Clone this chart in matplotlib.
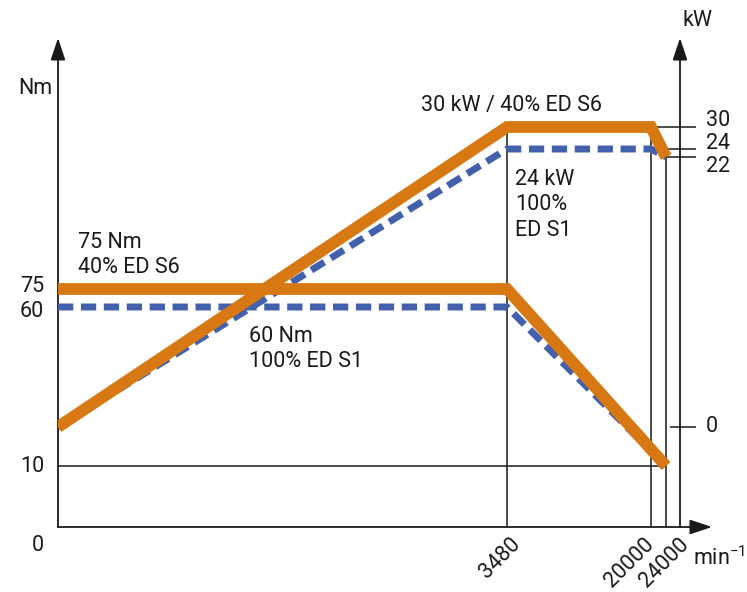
import numpy as np
import matplotlib
matplotlib.use('Agg')
import matplotlib.pyplot as plt
from matplotlib.transforms import blended_transform_factory

# --- data ---
speed_torque = [0, 3480, 24000]
torque_s6 = [75, 75, 10]
torque_s1 = [60, 60, 10]

speed_power = [0, 3480, 20000, 24000]
power_s6 = [0, 30, 30, 22]
power_s1 = [0, 24, 24, 22]

torque_ticks = [0, 10, 60, 75]
power_ticks = [0, 22, 24, 30]
speed_ticks = [3480, 20000, 24000]
speed_labels = ['3480', '20000', '24000']

# --- schematic (non-linear) axis layout, in pixels from the axes origin ---
X_KNOTS = [0, 3480, 20000, 24000, 28000]
X_POS = [0, 449, 593, 608, 654]
T_KNOTS = [0, 10, 60, 75, 140]
T_POS = [0, 61, 220, 238, 489]
P_KNOTS = [-8.15, 0, 22, 24, 30, 37.25]
P_POS = [0, 100, 370, 378, 400, 489]

ORANGE = '#D77812'
BLUE = '#4260AC'
INK = '#1a1a1a'
FONT = 'Roboto'
FS = 15.5

plt.rcParams['font.family'] = [FONT, 'DejaVu Sans']


def interp_funcs(knots, pos):
    fwd = lambda v: np.interp(v, knots, pos)
    inv = lambda p: np.interp(p, pos, knots)
    return fwd, inv


W, H = 747, 592
fig = plt.figure(figsize=(W / 100, H / 100), dpi=100)
ax = fig.add_axes([58 / W, 65 / H, 654 / W, 489 / H])
ax.set_xscale('function', functions=interp_funcs(X_KNOTS, X_POS))
ax.set_yscale('function', functions=interp_funcs(T_KNOTS, T_POS))
ax.set_xlim(X_KNOTS[0], X_KNOTS[-1])
ax.set_ylim(T_KNOTS[0], T_KNOTS[-1])

ax2 = ax.twinx()
ax2.set_yscale('function', functions=interp_funcs(P_KNOTS, P_POS))
ax2.set_ylim(P_KNOTS[0], P_KNOTS[-1])
ax.axis('off')
ax2.axis('off')


def xfrac(speed):
    return np.interp(speed, X_KNOTS, X_POS) / X_POS[-1]


kw_axis_x = 622 / 654
tick_l, tick_r = 612 / 654, 638 / 654

# axes with arrow heads
arrow = dict(arrowstyle='-|>,head_length=0.9,head_width=0.3', lw=1.3,
             color=INK, mutation_scale=15, shrinkA=0, shrinkB=0)
ax.annotate('', xy=(0, 1), xytext=(0, 0), xycoords='axes fraction', arrowprops=arrow)
ax.annotate('', xy=(1, 0), xytext=(0, 0), xycoords='axes fraction', arrowprops=arrow)
ax.annotate('', xy=(kw_axis_x, 1), xytext=(kw_axis_x, 0), xycoords='axes fraction',
            arrowprops=arrow)

# thin guide lines
thin = dict(color=INK, lw=1.1, solid_capstyle='butt', clip_on=False)
ax.plot([0, 24000], [10, 10], **thin)
for s, top in zip(speed_ticks, [30, 30, 22]):
    ax.plot([s, s], [P_KNOTS[0], top], transform=ax2.transData, **thin)

trans_kw = blended_transform_factory(ax.transAxes, ax2.transData)
for v, start in zip(power_ticks, [None, 24000, 24000, 20000]):
    x0 = tick_l if start is None else xfrac(start)
    ax.plot([x0, tick_r], [v, v], transform=trans_kw, **thin)

# curves
dash = dict(color=BLUE, lw=5, linestyle=(0, (2.2, 1.1)), dash_capstyle='butt',
            solid_joinstyle='miter')
ax.plot(speed_torque, torque_s1, **dash, zorder=3)
ax.plot(speed_power, power_s1, transform=ax2.transData, **dash, zorder=3)
solid = dict(color=ORANGE, lw=8.5, solid_capstyle='butt', solid_joinstyle='miter')
ax.plot(speed_torque, torque_s6, **solid, zorder=4)
ax.plot(speed_power, power_s6, transform=ax2.transData, **solid, zorder=4)

# left tick labels
trans_t = blended_transform_factory(ax.transAxes, ax.transData)
t_offsets = [-13, 0, -3, 1.5]
for v, off in zip(torque_ticks, t_offsets):
    ax.annotate(str(v), xy=(-14 / 654, v), xycoords=trans_t, xytext=(0, off),
                textcoords='offset points', ha='right', va='center', fontsize=FS,
                color=INK)

# right tick labels
p_offsets = [0, -6.5, 4.3, 5]
for v, off in zip(power_ticks, p_offsets):
    ax.annotate(str(v), xy=(648 / 654, v), xycoords=trans_kw, xytext=(0, off),
                textcoords='offset points', ha='left', va='center', fontsize=FS,
                color=INK)

# speed labels (rotated, nudged apart where crowded)
x_offsets = [3, -8, 12]
trans_x = blended_transform_factory(ax.transData, ax.transAxes)
for s, lab, off in zip(speed_ticks, speed_labels, x_offsets):
    ax.annotate(lab, xy=(s, 0), xycoords=trans_x, xytext=(off * 0.72, -5),
                textcoords='offset points', ha='right', va='top', rotation=45,
                rotation_mode='anchor', fontsize=FS, color=INK)


def ftext(x, y, s, **kw):
    fig.text(x / W, 1 - y / H, s, fontsize=FS, color=INK, **kw)


ftext(52, 88, 'Nm', ha='right', va='center')
ftext(697, 20, 'kW', ha='center', va='center')
ftext(693, 558, 'min$^{\\mathregular{-1}}$', ha='left', va='center')
ftext(421, 105, '30 kW / 40% ED S6', ha='left', va='center')
ftext(515, 205, '24 kW\n100%\nED S1', ha='left', va='center', linespacing=1.3)
ftext(78, 255, '75 Nm\n40% ED S6', ha='left', va='center', linespacing=1.3)
ftext(249, 349, '60 Nm\n100% ED S1', ha='left', va='center', linespacing=1.3)

fig.savefig('out.png', dpi=100)
